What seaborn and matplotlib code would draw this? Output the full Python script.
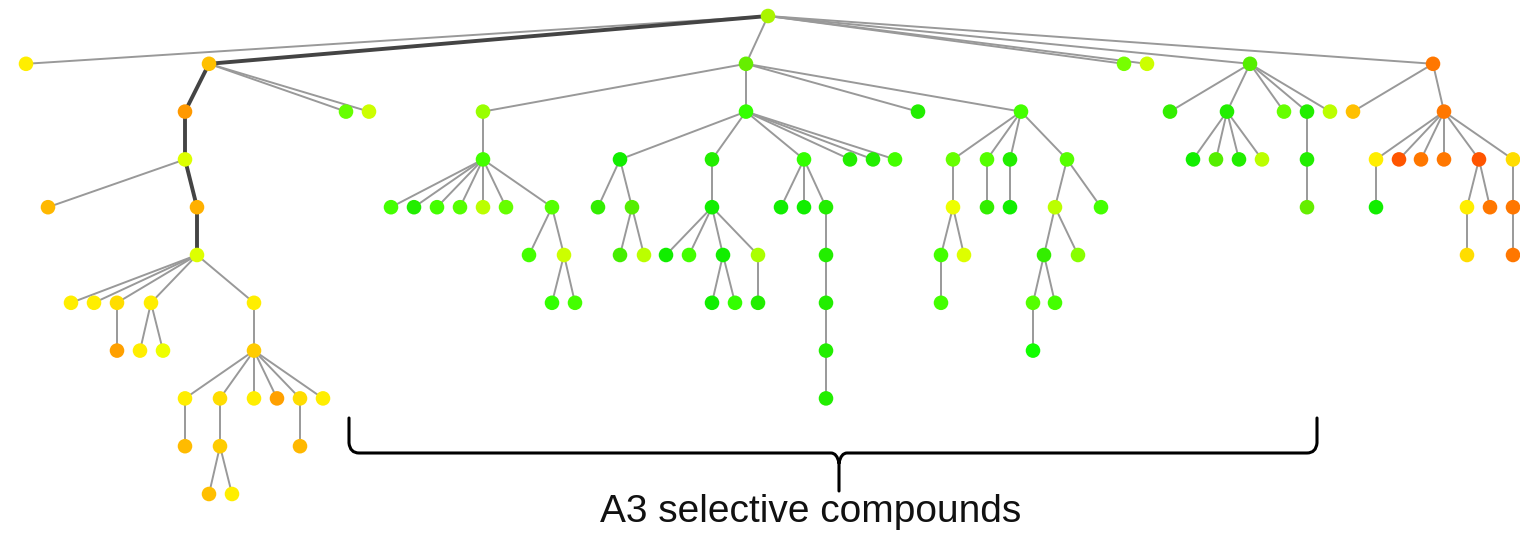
import numpy as np
import pandas as pd
import matplotlib.pyplot as plt
import seaborn as sns
from matplotlib.collections import LineCollection
from matplotlib.path import Path
from matplotlib.patches import PathPatch

# tree nodes: x position, depth level, parent index, node colour
node_x = [768,
          26, 209, 746, 1124, 1147, 1250, 1433,
          185, 346, 369, 185, 48, 197, 197,
          71, 94, 117, 151, 254, 117, 140, 163, 254,
          185, 220, 254, 277, 300, 323, 185, 220, 300, 209, 232,
          483, 746, 918, 1021, 483,
          391, 414, 437, 460, 483, 506, 552, 529, 564, 552, 575,
          620, 712, 804, 850, 873, 895, 598, 632, 620, 644,
          712, 666, 689, 723, 758, 712, 735, 758,
          781, 804, 826, 826, 826, 826, 826,
          953, 987, 1010, 1067, 953, 941, 964, 941, 987, 1010,
          1055, 1101, 1044, 1078, 1033, 1055, 1033,
          1170, 1227, 1284, 1307, 1330, 1193, 1216, 1239, 1262, 1307, 1307,
          1353, 1444, 1376, 1399, 1421, 1444, 1479, 1513,
          1376, 1467, 1490, 1467, 1513, 1513]
node_level = [0,
              1, 1, 1, 1, 1, 1, 1,
              2, 2, 2, 3, 4, 4, 5,
              6, 6, 6, 6, 6, 7, 7, 7, 7,
              8, 8, 8, 8, 8, 8, 9, 9, 9, 10, 10,
              2, 2, 2, 2, 3,
              4, 4, 4, 4, 4, 4, 4, 5, 5, 6, 6,
              3, 3, 3, 3, 3, 3, 4, 4, 5, 5,
              4, 5, 5, 5, 5, 6, 6, 6,
              4, 4, 4, 5, 6, 7, 8,
              3, 3, 3, 3, 4, 5, 5, 6, 4, 4,
              4, 4, 5, 5, 6, 6, 7,
              2, 2, 2, 2, 2, 3, 3, 3, 3, 3, 4,
              2, 2, 3, 3, 3, 3, 3, 3,
              4, 4, 4, 5, 4, 5]
node_parent = [-1,
               0, 0, 0, 0, 0, 0, 0,
               2, 2, 2, 8, 11, 11, 13,
               14, 14, 14, 14, 14, 17, 18, 18, 19,
               23, 23, 23, 23, 23, 23, 24, 25, 28, 31, 31,
               3, 3, 3, 3, 35,
               39, 39, 39, 39, 39, 39, 39, 46, 46, 48, 48,
               36, 36, 36, 36, 36, 36, 51, 51, 58, 58,
               52, 61, 61, 61, 61, 64, 64, 65,
               53, 53, 53, 71, 72, 73, 74,
               38, 38, 38, 38, 76, 80, 80, 81, 77, 78,
               79, 79, 86, 86, 88, 88, 90,
               6, 6, 6, 6, 6, 94, 94, 94, 94, 96, 102,
               7, 7, 105, 105, 105, 105, 105, 105,
               106, 110, 110, 113, 111, 116]
node_color = ['#aaf500',
              '#ffee00', '#ffc000', '#66ee00', '#77ff00', '#ccff00', '#55ee00', '#ff7700',
              '#ff9900', '#66ff00', '#ccff00', '#ddff00', '#ffb800', '#ffb000', '#ddff00',
              '#ffee00', '#ffee00', '#ffdd00', '#ffee00', '#ffee00', '#ffa000', '#ffee00', '#eeff00', '#ffcc00',
              '#ffee00', '#ffdd00', '#ffee00', '#ffa000', '#ffdd00', '#ffee00', '#ffbb00', '#ffcc00', '#ffb800',
              '#ffbf00', '#ffee00',
              '#99ff00', '#33ff00', '#22ee00', '#44ff00', '#44ff00',
              '#44ff00', '#22ee00', '#44ff00', '#55ff00', '#bbff00', '#66ff00', '#55ff00', '#44ff00', '#ccff00',
              '#33ff00', '#44ff00',
              '#11ee00', '#22ee00', '#33ff00', '#22ee00', '#22ee00', '#44ff00', '#33ee00', '#55ee00', '#44ee00',
              '#bbff00',
              '#11ee00', '#11ee00', '#44ff00', '#11ee00', '#aaff00', '#11ee00', '#33ff00', '#22ee00',
              '#11ee00', '#11ee00', '#22ee00', '#22ee00', '#22ee00', '#22ee00', '#22ee00',
              '#66ff00', '#55ff00', '#22ee00', '#55ff00', '#eeff00', '#44ff00', '#ddff00', '#44ff00', '#33ee00',
              '#11ee00',
              '#bbff00', '#44ff00', '#33ee00', '#88ff00', '#55ff00', '#44ff00', '#11ff00',
              '#33ee00', '#22ee00', '#66ff00', '#22ee00', '#bbff00', '#11ee00', '#55ee00', '#22ee00', '#bbff00',
              '#22ee00', '#66ee00',
              '#ffc000', '#ff7700', '#ffee00', '#ff5500', '#ff7700', '#ff7700', '#ff5500', '#ffdd00',
              '#11ee00', '#ffee00', '#ff7700', '#ffdd00', '#ff7700', '#ff7700']

# highlighted path from the root (drawn thick)
highlight_path = [0, 2, 8, 11, 13, 14]

label_text = 'A3 selective compounds'

nodes = pd.DataFrame({'id': np.arange(len(node_x)), 'x': node_x,
                      'level': node_level, 'parent': node_parent})

sns.set_style("white")
plt.rcParams['font.family'] = ['Liberation Sans', 'DejaVu Sans']

fig = plt.figure(figsize=(15.2, 5.4), dpi=100)
ax = fig.add_axes([0, 0, 1, 1])

# edges
hl_edges = set(zip(highlight_path[:-1], highlight_path[1:]))
thin, thick = [], []
for i, p in enumerate(node_parent):
    if p < 0:
        continue
    seg = [(node_x[p], node_level[p]), (node_x[i], node_level[i])]
    (thick if (p, i) in hl_edges else thin).append(seg)
ax.add_collection(LineCollection(thin, colors='#999999', linewidths=1.4, zorder=1))
ax.add_collection(LineCollection(thick, colors='#444444', linewidths=2.8, zorder=2))

# nodes
sns.scatterplot(data=nodes, x='x', y='level', hue='id',
                palette=dict(zip(nodes['id'], node_color)),
                s=110, linewidth=0, legend=False, zorder=3, ax=ax)

ax.set_xlim(0, 1520)
ax.set_ylim((540 - 16) / 47.8, -16 / 47.8)
ax.axis('off')

# brace + label on a pixel overlay
ov = fig.add_axes([0, 0, 1, 1])
ov.set_xlim(0, 1520)
ov.set_ylim(540, 0)
ov.axis('off')
ov.patch.set_alpha(0)

xl, xr, xm = 349, 1317, 839
ytop, ybar, ytip = 418, 453, 491
verts = [(xl, ytop), (xl, ybar - 10), (xl + 1, ybar), (xl + 10, ybar),
         (xm - 8, ybar), (xm - 2, ybar), (xm, ybar + 10), (xm, ytip),
         (xm, ybar + 10), (xm + 2, ybar), (xm + 8, ybar),
         (xr - 10, ybar), (xr - 1, ybar), (xr, ybar - 10), (xr, ytop)]
codes = [Path.MOVETO, Path.LINETO, Path.CURVE3, Path.CURVE3,
         Path.LINETO, Path.CURVE3, Path.CURVE3, Path.LINETO,
         Path.MOVETO, Path.CURVE3, Path.CURVE3,
         Path.LINETO, Path.CURVE3, Path.CURVE3, Path.LINETO]
ov.add_patch(PathPatch(Path(verts, codes), fill=False, lw=2.2, color='black',
                       capstyle='round', joinstyle='round'))
ov.text(811, 522, label_text, ha='center', va='baseline', fontsize=28, color='#111111')

plt.savefig('out.png', dpi=100)
